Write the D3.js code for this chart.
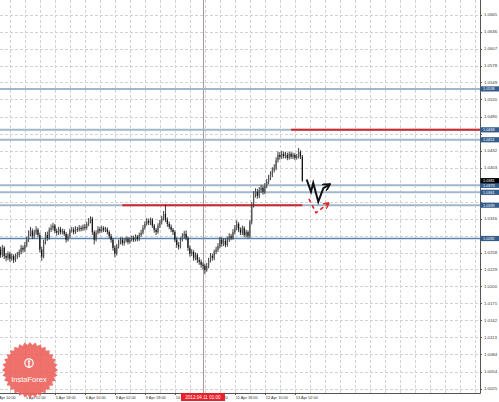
<!DOCTYPE html>
<html><head><meta charset="utf-8">
<script src="https://cdn.jsdelivr.net/npm/d3@7"></script>
<style>html,body{margin:0;padding:0;background:#fff;}svg{display:block;}</style>
</head><body>
<svg id="chart" width="499" height="402"></svg>
<script>
// ---- DATA ----
const firstOpen = 1.0258;
const closes = [
1.0263,1.0254,1.0266,1.0252,1.0249,1.0256,1.0247,1.0252,1.0245,1.0251,
1.0254,1.0259,1.0266,1.0263,1.0271,1.0280,1.0290,1.0295,1.0286,1.0292,
1.0297,1.0288,1.0263,1.0251,1.0276,1.0288,1.0283,1.0297,1.0300,1.0304,
1.0295,1.0292,1.0298,1.0293,1.0295,1.0290,1.0280,1.0286,1.0295,1.0297,
1.0293,1.0298,1.0297,1.0300,1.0298,1.0302,1.0300,1.0307,1.0312,1.0316,
1.0293,1.0280,1.0292,1.0298,1.0295,1.0300,1.0297,1.0298,1.0293,1.0286,
1.0280,1.0266,1.0256,1.0269,1.0276,1.0280,1.0274,1.0278,1.0281,1.0276,
1.0280,1.0283,1.0280,1.0285,1.0281,1.0288,1.0292,1.0300,1.0307,1.0312,
1.0309,1.0314,1.0304,1.0297,1.0293,1.0304,1.0310,1.0317,1.0324,1.0314,
1.0307,1.0302,1.0297,1.0293,1.0280,1.0271,1.0268,1.0280,1.0286,1.0290,
1.0283,1.0266,1.0256,1.0259,1.0249,1.0254,1.0245,1.0242,1.0237,1.0235,
1.0228,1.0235,1.0245,1.0252,1.0249,1.0259,1.0263,1.0269,1.0280,1.0273,
1.0278,1.0271,1.0280,1.0286,1.0283,1.0293,1.0300,1.0307,1.0297,1.0292,
1.0300,1.0288,1.0293,1.0286,1.0310,1.0339,1.0357,1.0362,1.0355,1.0365,
1.0369,1.0362,1.0372,1.0379,1.0386,1.0391,1.0399,1.0403,1.0416,1.0425,
1.0422,1.0427,1.0423,1.0425,1.0420,1.0427,1.0422,1.0425,1.0420,1.0423,
1.0430,1.0422,1.0381];
const highs = [
1.0271,1.0268,1.0271,1.0269,1.0257,1.0260,1.0259,1.0256,1.0255,1.0256,
1.0259,1.0263,1.0271,1.0270,1.0276,1.0285,1.0296,1.0302,1.0299,1.0297,
1.0303,1.0300,1.0292,1.0268,1.0280,1.0293,1.0294,1.0301,1.0306,1.0309,
1.0307,1.0299,1.0302,1.0302,1.0299,1.0298,1.0293,1.0290,1.0299,1.0302,
1.0301,1.0303,1.0302,1.0305,1.0304,1.0306,1.0307,1.0311,1.0317,1.0320,
1.0319,1.0296,1.0296,1.0303,1.0302,1.0304,1.0303,1.0302,1.0301,1.0296,
1.0290,1.0283,1.0270,1.0273,1.0280,1.0284,1.0284,1.0282,1.0285,1.0285,
1.0284,1.0287,1.0287,1.0289,1.0288,1.0292,1.0297,1.0305,1.0311,1.0317,
1.0316,1.0318,1.0317,1.0307,1.0300,1.0308,1.0314,1.0321,1.0329,1.0340,
1.0318,1.0311,1.0306,1.0300,1.0296,1.0284,1.0276,1.0284,1.0291,1.0295,
1.0296,1.0286,1.0270,1.0264,1.0262,1.0258,1.0257,1.0250,1.0246,1.0241,
1.0239,1.0240,1.0249,1.0257,1.0256,1.0263,1.0268,1.0274,1.0285,1.0284,
1.0282,1.0282,1.0285,1.0291,1.0290,1.0298,1.0305,1.0313,1.0310,1.0301,
1.0304,1.0303,1.0297,1.0296,1.0314,1.0344,1.0363,1.0368,1.0367,1.0370,
1.0374,1.0373,1.0377,1.0384,1.0391,1.0397,1.0404,1.0409,1.0421,1.0431,
1.0430,1.0432,1.0431,1.0430,1.0429,1.0431,1.0430,1.0429,1.0428,1.0427,
1.0437,1.0433,1.0425];
const lows = [
1.0241,1.0249,1.0250,1.0247,1.0243,1.0245,1.0242,1.0244,1.0240,1.0242,
1.0247,1.0250,1.0255,1.0258,1.0259,1.0267,1.0276,1.0286,1.0281,1.0282,
1.0288,1.0284,1.0258,1.0244,1.0248,1.0272,1.0278,1.0280,1.0293,1.0296,
1.0291,1.0287,1.0288,1.0289,1.0289,1.0286,1.0275,1.0277,1.0283,1.0292,
1.0289,1.0290,1.0293,1.0294,1.0294,1.0295,1.0296,1.0297,1.0303,1.0308,
1.0288,1.0272,1.0277,1.0289,1.0291,1.0292,1.0293,1.0293,1.0289,1.0282,
1.0275,1.0261,1.0250,1.0253,1.0265,1.0272,1.0270,1.0270,1.0275,1.0272,
1.0273,1.0277,1.0276,1.0277,1.0277,1.0278,1.0285,1.0289,1.0297,1.0304,
1.0305,1.0305,1.0300,1.0292,1.0288,1.0290,1.0300,1.0306,1.0313,1.0310,
1.0302,1.0298,1.0293,1.0288,1.0276,1.0266,1.0263,1.0265,1.0277,1.0282,
1.0279,1.0261,1.0251,1.0252,1.0244,1.0245,1.0240,1.0237,1.0232,1.0229,
1.0221,1.0225,1.0231,1.0241,1.0244,1.0245,1.0255,1.0259,1.0265,1.0268,
1.0269,1.0267,1.0268,1.0276,1.0279,1.0280,1.0289,1.0296,1.0293,1.0288,
1.0288,1.0284,1.0284,1.0282,1.0283,1.0306,1.0335,1.0352,1.0350,1.0351,
1.0360,1.0357,1.0358,1.0368,1.0375,1.0382,1.0387,1.0395,1.0399,1.0412,
1.0417,1.0418,1.0419,1.0419,1.0416,1.0417,1.0418,1.0418,1.0416,1.0417,
1.0419,1.0418,1.0379];

const yTickLabels = ["1.0665","1.0636","1.0607","1.0578","1.0549","1.0520","1.0490","1.0461","1.0432","1.0403","1.0374","1.0345","1.0316","1.0287","1.0258","1.0229","1.0200","1.0171","1.0142","1.0113","1.0084","1.0054","1.0025"];
const xTickLabels = ["4 Apr 10:00","5 Apr 02:00","5 Apr 18:00","6 Apr 10:00","9 Apr 02:00","9 Apr 18:00","10 Apr 10:00","11 Apr 02:00","11 Apr 18:00","12 Apr 10:00","13 Apr 02:00"];
const xTickBars = [-2,14,30,46,62,78,94,110,126,142,158];
const gridBarStep = 8;

const levelValues = [1.0538, 1.0468, 1.0451, 1.0373, 1.0361, 1.0339, 1.0282];
const levelKinds  = ["light","light","light","light","light","light","dark"];
const redLevels = [1.0468, 1.0339];
const redFromBar = [156, 66];
const redToBar   = [null, 162];

const cursorBar = 109;
const cursorLabel = "2012.04.11 01:00";

const blackArrowBars   = [164.3, 166.6, 167.8, 170.5, 173.2, 176.8];
const blackArrowPrices = [1.0383, 1.0362, 1.0377, 1.0345, 1.0368, 1.0375];
const redArrowBars   = [165.5, 169.3, 176.2];
const redArrowPrices = [1.0350, 1.0326, 1.0343];

const logoText = "InstaForex";

// ---- CHART ----
const W = 499, H = 402, plotR = 480, plotB = 393;
const svg = d3.select("#chart");
const x = d3.scaleLinear().domain([0, 162]).range([-1.4, 302.35]);
const y = d3.scaleLinear().domain([1.0025, 1.0665]).range([388.7, 14.7]);
const font = "'Liberation Sans', Arial, sans-serif";

svg.append("rect").attr("width", W).attr("height", H).attr("fill", "#fff");

const defs = svg.append("defs");
defs.append("clipPath").attr("id","plot")
  .append("rect").attr("x",0).attr("y",0).attr("width",plotR).attr("height",plotB);
const cx = x(cursorBar);
defs.append("clipPath").attr("id","xlab")
  .append("path").attr("d",`M-10,393H${cx-22}V402H-10Z M${cx+22},393H510V402H${cx+22}Z`);

const grid = svg.append("g").attr("clip-path","url(#plot)");
grid.selectAll("line.hg").data(yTickLabels).join("line")
  .attr("x1",0).attr("x2",plotR)
  .attr("y1",d=>Math.round(y(+d))+0.5).attr("y2",d=>Math.round(y(+d))+0.5)
  .attr("stroke","#d2d2d2").attr("stroke-width",1).attr("stroke-dasharray","3,2");
const gridBars = d3.range(xTickBars[0], 260, gridBarStep);
grid.selectAll("line.vg").data(gridBars).join("line")
  .attr("x1",d=>Math.round(x(d))+0.5).attr("x2",d=>Math.round(x(d))+0.5)
  .attr("y1",0).attr("y2",plotB)
  .attr("stroke","#d2d2d2").attr("stroke-width",1).attr("stroke-dasharray","3,2");

grid.append("line")
  .attr("x1",Math.round(cx)+0.5).attr("x2",Math.round(cx)+0.5)
  .attr("y1",0).attr("y2",plotB).attr("stroke","#a89898").attr("stroke-width",1);

const lv = svg.append("g").attr("clip-path","url(#plot)");
levelValues.forEach((v,i)=>{
  lv.append("line").attr("x1",0).attr("x2",plotR)
    .attr("y1",y(v)).attr("y2",y(v))
    .attr("stroke", levelKinds[i]==="dark" ? "#5a86b3" : "#a2b7cc")
    .attr("stroke-width", levelKinds[i]==="dark" ? 1.3 : 2);
});
redLevels.forEach((v,i)=>{
  lv.append("line").attr("x1",x(redFromBar[i]))
    .attr("x2", redToBar[i]===null ? plotR : x(redToBar[i]))
    .attr("y1",y(v)).attr("y2",y(v))
    .attr("stroke","#d0282c").attr("stroke-width",2);
});

const bars = closes.map((c,i)=>({i, o: i===0 ? firstOpen : closes[i-1], c, h: highs[i], l: lows[i]}));
const cg = svg.append("g").attr("clip-path","url(#plot)");
cg.selectAll("line.w").data(bars).join("line")
  .attr("x1",d=>x(d.i)).attr("x2",d=>x(d.i))
  .attr("y1",d=>y(d.h)).attr("y2",d=>y(d.l))
  .attr("stroke","#2a2a2a").attr("stroke-width",0.9);
cg.selectAll("rect.b").data(bars).join("rect")
  .attr("x",d=>x(d.i)-0.6).attr("width",1.2)
  .attr("y",d=>y(Math.max(d.o,d.c)))
  .attr("height",d=>Math.max(0.8, Math.abs(y(d.o)-y(d.c))))
  .attr("fill",d=> d.c>=d.o ? "#555" : "#111");

function marker(id,color){
  defs.append("marker").attr("id",id).attr("viewBox","0 0 10 10")
    .attr("refX",9).attr("refY",5).attr("markerWidth",4).attr("markerHeight",4)
    .attr("orient","auto")
    .append("path").attr("d","M0,0 L9,5 L0,10").attr("fill","none")
    .attr("stroke",color).attr("stroke-width",2.2);
}
marker("mb","#111"); marker("mr","#e0262a");
const lineGen = d3.line().x(d=>x(d[0])).y(d=>y(d[1]));
svg.append("path").attr("d", lineGen(blackArrowBars.map((b,i)=>[b,blackArrowPrices[i]])))
  .attr("fill","none").attr("stroke","#111").attr("stroke-width",2)
  .attr("stroke-linejoin","miter").attr("marker-end","url(#mb)");
svg.append("path").attr("d", lineGen(redArrowBars.map((b,i)=>[b,redArrowPrices[i]])))
  .attr("fill","none").attr("stroke","#e0262a").attr("stroke-width",1.6)
  .attr("stroke-dasharray","4,3").attr("marker-end","url(#mr)");

svg.append("line").attr("x1",plotR+0.5).attr("x2",plotR+0.5).attr("y1",0).attr("y2",plotB+0.5)
  .attr("stroke","#555").attr("stroke-width",1);
svg.append("line").attr("x1",0).attr("x2",plotR+0.5).attr("y1",plotB+0.5).attr("y2",plotB+0.5)
  .attr("stroke","#555").attr("stroke-width",1);

// price boxes (positions on the axis) -- tick labels hidden under a box are not drawn
const boxValues = levelValues.concat([closes[closes.length-1]]);
const yl = svg.append("g");
yTickLabels.forEach(t=>{
  const yy = y(+t);
  yl.append("line").attr("x1",plotR).attr("x2",plotR+2).attr("y1",Math.round(yy)+0.5).attr("y2",Math.round(yy)+0.5).attr("stroke","#555");
  const covered = boxValues.some(v=>Math.abs(y(v)-yy) < 5.5);
  if (!covered) {
    yl.append("text").attr("x",plotR+4).attr("y",yy).attr("dy","0.35em")
      .attr("font-family",font).attr("font-size",4.3).attr("fill","#333").text(t);
  }
});

const xl = svg.append("g").attr("clip-path","url(#xlab)");
xTickLabels.forEach((t,i)=>{
  const xx = x(xTickBars[i]);
  xl.append("line").attr("x1",Math.round(xx)+0.5).attr("x2",Math.round(xx)+0.5).attr("y1",plotB).attr("y2",plotB+2).attr("stroke","#555");
  xl.append("text").attr("x",xx+1).attr("y",398.5)
    .attr("font-family",font).attr("font-size",3.9).attr("fill","#333").text(t);
});

function priceBox(v, color){
  const g = svg.append("g");
  g.append("rect").attr("x",plotR+0.5).attr("y",y(v)-2.6).attr("width",19).attr("height",5.2).attr("fill",color);
  g.append("text").attr("x",plotR+3).attr("y",y(v)).attr("dy","0.35em")
    .attr("font-family",font).attr("font-size",3.8).attr("fill","#fff").text(v.toFixed(4));
}
levelValues.forEach(v=>priceBox(v,"#345d8c"));
priceBox(closes[closes.length-1], "#000");

svg.append("rect").attr("x",cx-22).attr("y",393).attr("width",44).attr("height",8).attr("fill","#e8202a");
svg.append("text").attr("x",cx).attr("y",398.8).attr("text-anchor","middle")
  .attr("font-family",font).attr("font-size",4.6).attr("fill","#fff").text(cursorLabel);

const lcx = 30, lcy = 370, spikes = 32, rOut = 28, rIn = 25;
const pts = d3.range(spikes*2).map(k=>{
  const a = Math.PI*k/spikes - Math.PI/2;
  const r = k%2===0 ? rOut : rIn;
  return [lcx + r*Math.cos(a), lcy + r*Math.sin(a)];
});
const logo = svg.append("g").attr("opacity",0.9);
logo.append("path").attr("d","M"+pts.map(p=>p.join(",")).join("L")+"Z").attr("fill","#ee625c");
logo.append("circle").attr("cx",lcx-1).attr("cy",lcy-7).attr("r",4.2).attr("fill","none").attr("stroke","#fff").attr("stroke-width",1.2);
logo.append("circle").attr("cx",lcx-1).attr("cy",lcy-8.5).attr("r",1.3).attr("fill","#fff");
logo.append("line").attr("x1",lcx-1).attr("x2",lcx-1).attr("y1",lcy-7).attr("y2",lcy-2).attr("stroke","#fff").attr("stroke-width",1.4);
logo.append("text").attr("x",lcx-1).attr("y",lcy+12).attr("text-anchor","middle")
  .attr("font-family",font).attr("font-size",7.5).attr("fill","#fff").text(logoText);
</script>
</body></html>
